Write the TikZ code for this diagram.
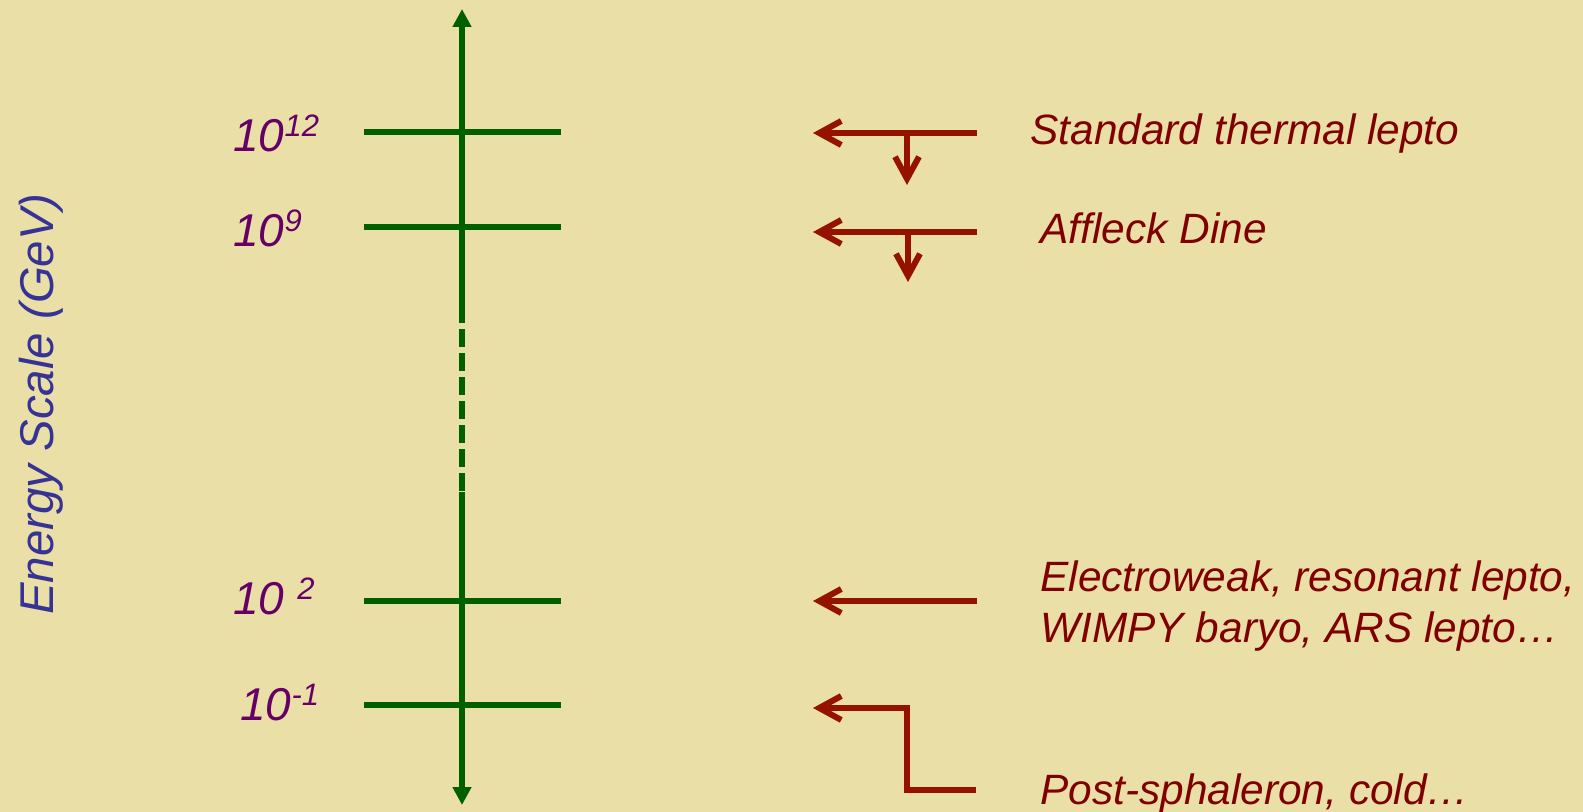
\documentclass[tikz,border=0pt]{standalone}
\usepackage{fontspec}
\setmainfont{Liberation Sans}
\usetikzlibrary{arrows.meta}
\definecolor{bgc}{RGB}{233,223,167}
\definecolor{axgreen}{RGB}{0,96,0}
\definecolor{arrred}{RGB}{150,18,0}
\definecolor{txtred}{RGB}{128,0,0}
\definecolor{lblpurple}{RGB}{102,0,102}
\definecolor{lblblue}{RGB}{55,50,150}
\newcommand{\sups}[1]{\raisebox{7.5pt}{\fontsize{15.5pt}{15.5pt}\selectfont #1}}
\begin{document}
\begin{tikzpicture}[x=0.5pt,y=-0.5pt,
  axisline/.style={draw=axgreen,line width=3pt},
  tickline/.style={draw=axgreen,line width=2.6pt},
  redarrow/.style={draw=arrred,line width=3pt,-{Straight Barb[length=11pt,width=12pt]}},
  powlbl/.style={anchor=base west,text=lblpurple,font=\fontsize{23pt}{27pt}\selectfont\itshape,inner sep=0pt},
  desc/.style={anchor=base west,text=txtred,font=\fontsize{21.2pt}{25.5pt}\selectfont\itshape,inner sep=0pt,align=left}]
\fill[bgc] (0,0) rectangle (1583,812);
\useasboundingbox (0,0) rectangle (1583,812);
% axis
\coordinate (atop) at (462,9);
\coordinate (adash1) at (462,323);
\coordinate (adash2) at (462,492);
\coordinate (abot) at (462,805);
\draw[axisline,-{Triangle[length=9pt,width=9pt]}] (adash1) -- (atop);
\draw[axisline,dash pattern=on 9pt off 3pt,dash phase=9pt] (adash1) -- (adash2);
\draw[axisline,-{Triangle[length=9pt,width=9pt]}] (adash2) -- (abot);
% ticks
\foreach \n/\y in {t12/132,t9/227,t2/601,tm1/705}{
  \coordinate (\n L) at (364,\y);
  \coordinate (\n R) at (561,\y);
  \draw[tickline] (\n L) -- (\n R);
}
% labels
\node[powlbl] (l12) at (233,152) {10\sups{12}};
\node[powlbl] (l9) at (233,247) {10\sups{9}};
\node[powlbl] (l2) at (233,614) {10 \sups{2}};
\node[powlbl] (lm1) at (240,720) {10\sups{-1}};
\node[rotate=90,text=lblblue,font=\fontsize{23.7pt}{28pt}\selectfont\itshape,inner sep=0pt] (ylab) at (41,404) {Energy Scale (GeV)};
% descriptions
\node[desc] (d1) at (1030,145) {Standard thermal lepto};
\node[desc] (d2) at (1040,244) {Affleck Dine};
\node[desc] (d3a) at (1040,591) {Electroweak, resonant lepto,};
\node[desc] (d3b) at (1040,642) {WIMPY baryo, ARS lepto\dots};
\node[desc] (d4) at (1040,804) {Post-sphaleron, cold\dots};
% red arrows
\coordinate (r1s) at (977,133);
\coordinate (r1e) at (813,133);
\coordinate (r1b) at (907,133);
\coordinate (r1d) at (907,185);
\draw[redarrow] (r1s) -- (r1e);
\draw[redarrow] (r1b) -- (r1d);
\coordinate (r2s) at (977,232);
\coordinate (r2e) at (813,232);
\coordinate (r2b) at (908,232);
\coordinate (r2d) at (908,282);
\draw[redarrow] (r2s) -- (r2e);
\draw[redarrow] (r2b) -- (r2d);
\coordinate (r3s) at (977,601);
\coordinate (r3e) at (813,601);
\draw[redarrow] (r3s) -- (r3e);
\coordinate (r4s) at (976,790);
\coordinate (r4c1) at (907,790);
\coordinate (r4c2) at (907,708);
\coordinate (r4e) at (813,708);
\draw[redarrow] (r4s) -- (r4c1) -- (r4c2) -- (r4e);
\end{tikzpicture}
\end{document}
